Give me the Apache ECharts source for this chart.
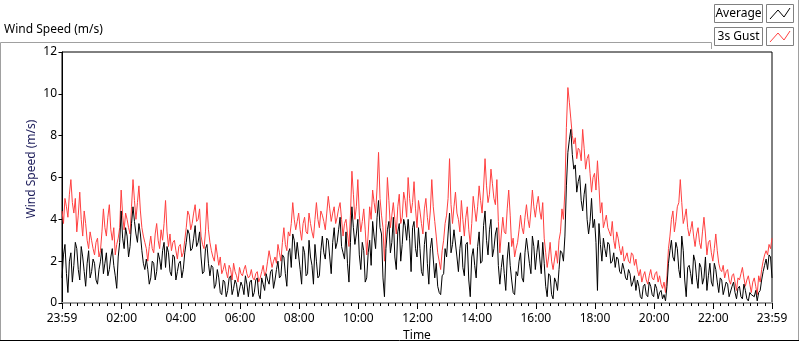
<!DOCTYPE html>
<html>
<head>
<meta charset="utf-8">
<script src="https://cdn.jsdelivr.net/npm/echarts@6/dist/echarts.min.js"></script>
<style>
html,body{margin:0;padding:0;background:#fff;}
#chart{width:800px;height:342px;}
</style>
</head>
<body>
<div id="chart"></div>
<script>
// One reading every 3 minutes, starting at 23:59 of the previous day (-1 min)
const startMinute = -1;
const stepMinutes = 3;

const gust3s = [
4.4,3.8,5.0,4.6,4.1,5.2,5.9,4.8,4.3,5.0,3.4,4.2,5.3,4.0,3.2,4.4,3.8,3.0,2.6,3.4,3.0,2.6,2.3,2.9,3.1,2.2,2.5,3.4,4.5,3.6,3.2,4.1,4.7,3.5,3.0,3.6,2.3,2.8,3.1,3.6,
5.4,4.2,3.5,4.3,4.0,3.6,3.3,4.6,5.9,4.9,4.0,4.8,5.6,4.4,3.6,3.2,2.9,2.6,2.0,2.7,3.2,2.6,2.4,3.3,3.8,3.0,2.6,3.5,3.0,3.8,4.9,3.4,2.7,3.3,2.5,2.9,3.0,2.5,2.1,2.7,
2.8,2.2,2.4,3.0,3.6,4.4,4.2,3.5,3.8,4.3,4.7,3.9,4.0,4.5,3.2,2.8,2.6,3.4,4.8,3.5,2.9,2.5,2.2,2.0,2.8,2.3,1.8,2.2,1.4,1.6,1.9,1.5,1.2,1.8,1.6,1.1,1.9,1.5,1.3,1.0,
1.7,1.4,1.3,1.6,1.8,1.4,1.2,1.3,1.6,1.2,1.1,1.4,1.5,1.0,1.2,1.5,1.8,1.3,1.5,2.0,2.5,2.1,1.7,2.0,2.2,1.9,2.8,2.4,2.0,2.9,3.6,2.8,2.5,3.4,3.2,3.8,4.8,4.0,3.5,3.9,
4.3,3.5,3.0,3.8,4.1,3.4,3.3,4.3,3.8,3.4,3.1,4.0,4.8,4.0,3.6,4.4,4.2,3.9,3.5,4.3,5.1,4.5,3.9,4.3,4.6,3.8,4.1,4.5,4.8,4.0,3.2,3.8,4.0,3.3,2.7,4.2,6.3,5.2,4.0,4.6,
5.9,4.2,3.4,3.9,4.5,3.5,2.3,3.3,4.6,4.0,5.4,4.8,4.3,5.5,7.2,5.0,4.2,3.6,2.0,3.8,6.0,4.9,3.6,4.2,4.8,4.0,3.3,4.6,5.2,3.8,4.1,5.3,4.9,4.1,6.0,5.0,4.3,4.8,5.8,4.5,
3.6,4.9,4.4,3.8,3.3,4.5,5.0,4.1,3.5,4.4,5.9,4.6,3.9,3.2,2.4,2.0,1.6,2.5,3.0,3.8,4.2,5.0,6.9,4.7,3.8,4.6,5.3,4.3,4.0,3.4,4.9,4.0,3.2,4.1,4.6,3.5,2.8,3.8,5.1,4.5,
3.9,4.6,5.6,4.9,4.3,5.5,6.9,5.6,4.8,5.2,6.4,5.7,5.0,4.7,5.9,3.9,2.4,3.3,4.1,3.4,3.3,4.5,5.4,4.2,2.7,3.1,2.2,2.6,2.9,3.5,4.2,3.6,3.3,4.1,4.7,4.0,3.6,4.4,5.4,4.6,
4.1,4.7,5.1,4.4,4.0,4.8,3.1,2.4,1.7,2.2,2.9,2.0,1.6,2.1,2.5,1.9,3.0,3.4,4.5,4.0,5.4,8.4,10.3,9.6,8.8,8.0,7.6,7.9,6.9,7.4,7.3,6.8,8.3,7.4,6.4,6.9,7.1,6.2,5.3,6.0,
6.2,5.4,6.8,5.6,4.3,4.8,3.6,3.9,4.2,3.6,3.4,3.2,3.9,3.0,2.6,3.4,3.1,2.6,2.3,2.7,2.0,2.2,2.4,2.0,1.9,2.4,2.3,1.8,2.1,1.6,1.3,1.6,1.0,1.3,1.5,1.1,0.9,1.3,1.6,1.2,
1.1,1.4,1.5,1.0,1.3,0.9,0.7,1.0,0.5,1.3,2.6,3.2,4.0,4.4,3.4,3.9,4.6,4.8,5.9,4.8,3.8,4.1,4.5,3.6,3.2,3.5,3.9,3.2,2.7,3.3,3.6,2.9,2.6,3.4,4.1,3.3,2.3,2.9,3.0,2.4,
2.0,2.6,3.3,2.5,1.9,1.6,1.5,1.8,1.2,1.5,1.6,1.1,0.9,1.3,1.4,1.0,0.6,1.2,1.1,1.4,1.7,1.2,0.8,1.1,1.3,0.9,0.5,1.0,1.2,0.8,0.4,1.3,1.0,1.6,2.0,2.3,2.5,2.3,2.8,2.6,
3.1
];

const average = [
1.2,2.3,2.8,1.4,0.5,2.0,2.4,1.0,1.8,2.9,2.6,1.6,1.1,2.7,2.2,1.5,0.8,1.9,2.5,1.2,1.5,2.1,1.9,1.1,0.9,1.6,2.0,2.6,1.4,1.9,2.4,1.3,1.6,2.2,2.6,1.8,1.3,0.7,2.2,2.9,
4.4,3.1,2.6,3.6,3.2,2.2,2.7,3.8,4.6,3.9,3.3,2.9,3.8,3.3,2.5,1.9,1.6,2.1,1.6,0.9,1.2,2.0,1.9,1.1,1.5,2.4,2.1,1.6,2.5,2.9,1.7,2.7,2.4,1.5,1.3,2.3,2.2,1.1,1.5,1.9,
2.0,1.2,1.6,2.4,2.9,3.5,3.3,2.5,2.6,3.1,3.7,2.7,2.9,3.4,2.2,1.4,1.5,2.6,2.8,1.9,1.3,1.8,1.7,0.7,0.9,1.6,1.2,0.5,0.4,1.1,1.0,0.3,0.6,1.2,1.3,0.4,0.7,1.1,0.9,0.3,
0.3,1.0,0.8,0.4,1.3,0.9,0.3,1.0,1.1,0.3,0.5,1.1,1.2,0.4,0.2,1.2,0.9,0.6,1.4,1.1,0.9,1.5,1.6,0.7,1.1,1.6,2.0,1.2,1.3,2.3,2.2,1.4,0.8,2.4,2.6,1.7,3.3,3.0,2.1,2.9,
2.9,1.6,0.9,2.7,2.4,1.3,1.4,3.0,2.2,1.8,0.9,2.8,2.0,1.2,1.3,2.5,3.2,2.4,2.1,3.1,3.0,2.2,1.4,2.9,3.6,2.6,2.9,3.5,4.1,2.7,2.4,2.1,3.4,1.9,1.0,2.9,4.6,3.6,2.8,3.3,
4.0,2.3,1.6,2.9,2.5,1.0,1.2,2.4,3.0,1.8,3.9,3.2,2.6,4.1,4.9,3.6,3.3,1.2,0.3,2.6,3.5,3.9,2.4,2.9,4.1,2.2,1.6,3.4,3.8,2.0,2.8,4.0,3.7,3.0,4.0,3.1,1.5,3.6,3.9,2.6,
2.2,3.6,2.6,1.5,1.3,2.8,3.4,1.9,0.9,2.6,3.1,2.1,1.2,1.9,0.8,0.5,0.4,1.3,1.4,2.6,2.2,3.3,4.3,2.4,2.8,3.5,3.5,2.2,1.5,2.6,3.2,1.7,1.3,2.8,2.9,1.1,0.3,2.2,2.6,1.8,
1.2,2.7,3.4,1.9,2.0,3.7,4.4,3.0,2.3,3.5,4.0,2.2,2.6,3.3,3.6,1.8,0.9,1.7,2.3,1.4,0.6,2.1,2.9,1.8,1.1,0.5,0.4,1.5,1.3,2.0,2.4,1.2,1.0,2.4,3.1,2.5,1.9,1.4,3.2,2.7,
1.6,2.4,3.0,2.1,1.4,2.9,1.9,0.8,0.3,1.4,1.3,0.4,0.2,1.2,1.0,0.6,1.6,2.5,2.4,2.0,3.2,5.6,7.2,7.8,8.3,7.1,6.4,6.6,5.3,5.8,6.1,4.9,4.4,5.2,5.7,4.0,3.3,3.9,5.0,3.6,
4.0,2.9,0.6,3.8,2.8,2.0,3.1,2.6,2.2,2.9,2.8,1.9,2.0,2.4,1.7,2.2,2.1,1.5,1.4,1.9,1.6,1.2,1.1,1.6,1.4,0.8,1.0,1.3,0.6,1.1,0.8,0.3,0.2,0.8,0.9,0.4,0.3,1.0,0.8,0.4,
0.3,0.9,0.7,0.2,0.5,0.6,0.2,0.4,0.1,0.8,1.9,2.5,3.0,2.2,2.0,2.9,2.6,1.6,1.2,3.2,2.5,1.1,0.3,1.7,1.8,1.4,0.9,2.3,2.0,1.2,0.7,1.9,1.7,0.9,1.2,2.2,0.6,1.3,1.9,1.0,
0.8,1.9,1.6,1.0,0.5,1.2,1.1,0.4,0.4,1.0,0.9,0.3,0.3,0.8,1.0,0.5,0.2,0.7,0.8,0.3,0.2,0.9,0.6,0.2,0.1,0.5,0.4,0.4,0.3,0.6,0.1,0.5,0.6,1.1,1.5,1.8,2.1,1.6,2.3,2.2,
1.2
];

const timeLabelValues = [-1,120,240,360,480,600,720,840,960,1080,1200,1320,1439];
const timeLabelTexts = ['23:59','02:00','04:00','06:00','08:00','10:00','12:00','14:00','16:00','18:00','20:00','22:00','23:59'];
const seriesNames = ['Average','3s Gust'];

const minorTickValues = [];
for (let m = 15; m < 1439; m += 15) { if (m % 120 !== 0) minorTickValues.push(m); }

const toPairs = arr => arr.map((v, i) => [startMinute + i * stepMinutes, v]);

const FONT = 'Noto Sans';
const chart = echarts.init(document.getElementById('chart'), null, {renderer: 'canvas'});

const option = {
  animation: false,
  backgroundColor: '#ffffff',
  textStyle: {fontFamily: FONT},
  grid: {
    left: 62, top: 52, right: 28, bottom: 39,
    containLabel: false, outerBoundsMode: 'none',
    show: true, borderColor: '#000', borderWidth: 1, backgroundColor: '#fff'
  },
  xAxis: [
    {
      type: 'value', min: -1, max: 1439,
      axisLine: {show: true, lineStyle: {color: '#a0a0a0', width: 2}},
      axisTick: {show: true, customValues: timeLabelValues, length: 6, lineStyle: {color: '#000'}},
      axisLabel: {
        show: true, customValues: timeLabelValues, color: '#000', fontSize: 12, fontFamily: FONT, margin: 10,
        formatter: v => { const k = timeLabelValues.indexOf(v); return k >= 0 ? timeLabelTexts[k] : ''; }
      },
      splitLine: {show: false},
      name: 'Time', nameLocation: 'middle', nameGap: 27,
      nameTextStyle: {color: '#000', fontSize: 12, fontFamily: FONT}
    },
    {
      type: 'value', min: -1, max: 1439, position: 'bottom',
      axisLine: {show: false},
      axisTick: {show: true, customValues: minorTickValues, length: 3, lineStyle: {color: '#000'}},
      axisLabel: {show: false},
      splitLine: {show: false}
    }
  ],
  yAxis: [{
    type: 'value', min: 0, max: 12, interval: 2,
    axisLine: {show: true, lineStyle: {color: '#000'}},
    axisTick: {show: true, length: 4, lineStyle: {color: '#000'}},
    axisLabel: {color: '#000', fontSize: 12, fontFamily: FONT, margin: 5},
    splitLine: {show: false}
  }],
  series: [
    {
      name: seriesNames[1], type: 'line', data: toPairs(gust3s), showSymbol: false, symbol: 'none',
      lineStyle: {color: '#ff4040', width: 1}, z: 2
    },
    {
      name: seriesNames[0], type: 'line', data: toPairs(average), showSymbol: false, symbol: 'none',
      lineStyle: {color: '#000000', width: 1}, z: 3
    }
  ],
  graphic: [
    {type: 'text', left: 4, top: 24, style: {text: 'Wind Speed (m/s)', fill: '#000', font: '12px "' + FONT + '"'}},
    {type: 'polyline', shape: {points: [[0.5, 341], [0.5, 42.5], [711.5, 42.5], [711.5, 49]]}, style: {stroke: '#a0a0a0', fill: null, lineWidth: 1}},
    {type: 'line', shape: {x1: 798.5, y1: 0, x2: 798.5, y2: 341}, style: {stroke: '#a0a0a0', lineWidth: 1}},
    {type: 'line', shape: {x1: 0, y1: 340.5, x2: 799, y2: 340.5}, style: {stroke: '#000', lineWidth: 1}},
    {type: 'text', x: 32, y: 169, rotation: Math.PI / 2, style: {text: 'Wind Speed (m/s)', fill: '#1c1c5a', font: '12px "' + FONT + '"', align: 'center', verticalAlign: 'middle'}},
    {type: 'rect', shape: {x: 714.5, y: 4.5, width: 48, height: 18}, style: {fill: '#fff', stroke: '#808080', lineWidth: 1}},
    {type: 'text', x: 738.5, y: 13.5, style: {text: seriesNames[0], fill: '#000', font: '12px "' + FONT + '"', align: 'center', verticalAlign: 'middle'}},
    {type: 'rect', shape: {x: 766.5, y: 4.5, width: 27, height: 18}, style: {fill: '#fff', stroke: '#808080', lineWidth: 1}},
    {type: 'polyline', shape: {points: [[770, 19], [778, 10], [784, 17], [790, 8]]}, style: {stroke: '#000', fill: null, lineWidth: 1}},
    {type: 'rect', shape: {x: 714.5, y: 27.5, width: 48, height: 18}, style: {fill: '#fff', stroke: '#808080', lineWidth: 1}},
    {type: 'text', x: 738.5, y: 36.5, style: {text: seriesNames[1], fill: '#000', font: '12px "' + FONT + '"', align: 'center', verticalAlign: 'middle'}},
    {type: 'rect', shape: {x: 766.5, y: 27.5, width: 27, height: 18}, style: {fill: '#fff', stroke: '#808080', lineWidth: 1}},
    {type: 'polyline', shape: {points: [[770, 42], [778, 33], [784, 40], [790, 31]]}, style: {stroke: '#ff4040', fill: null, lineWidth: 1}}
  ]
};
chart.setOption(option);
</script>
</body>
</html>
